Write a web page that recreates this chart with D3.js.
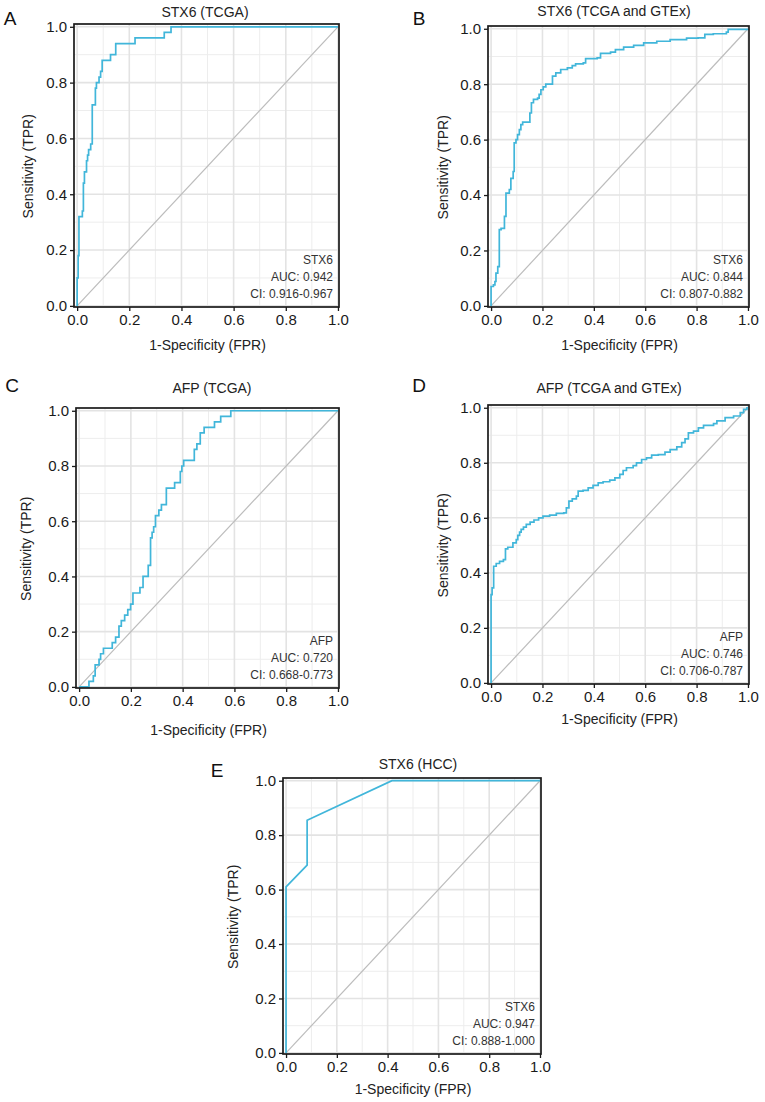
<!DOCTYPE html>
<html>
<head>
<meta charset="utf-8">
<script src="https://cdn.jsdelivr.net/npm/d3@7"></script>
<style>
  body { margin: 0; background: #fff; }
  svg { display: block; font-family: "Liberation Sans", Arial, Helvetica, sans-serif; }
</style>
</head>
<body>
<svg id="chart" width="765" height="1102"></svg>
<script>
// ---- Data (fpr, tpr) ----
const stx6TcgaFpr = [0,0,0.004,0.007,0.02,0.024,0.028,0.036,0.04,0.044,0.052,0.058,0.07,0.074,0.084,0.09,0.096,0.128,0.148,0.222,0.334,0.36,1];
const stx6TcgaTpr = [0,0.10,0.18,0.32,0.34,0.44,0.48,0.52,0.54,0.56,0.58,0.72,0.78,0.80,0.82,0.84,0.88,0.90,0.94,0.96,0.98,1.0,1.0];

const stx6GtexFpr = [0,0,0.009,0.015,0.019,0.026,0.032,0.039,0.052,0.058,0.071,0.077,0.086,0.09,0.097,0.103,0.11,0.116,0.123,0.151,0.157,0.165,0.181,0.187,0.194,0.203,0.213,0.239,0.252,0.271,0.297,0.316,0.329,0.359,0.368,0.413,0.426,0.465,0.484,0.516,0.555,0.594,0.645,0.697,0.761,0.806,0.832,0.865,0.916,0.923,1];
const stx6GtexTpr = [0,0.07,0.076,0.088,0.118,0.142,0.275,0.28,0.323,0.407,0.42,0.46,0.485,0.588,0.6,0.618,0.636,0.654,0.663,0.696,0.733,0.745,0.75,0.763,0.78,0.79,0.8,0.829,0.841,0.853,0.859,0.867,0.873,0.877,0.892,0.895,0.911,0.916,0.925,0.934,0.94,0.949,0.955,0.961,0.966,0.967,0.98,0.982,0.988,0.998,1.0];

const afpTcgaFpr = [0,0.038,0.055,0.062,0.077,0.083,0.094,0.128,0.141,0.154,0.163,0.176,0.188,0.199,0.208,0.235,0.247,0.267,0.276,0.282,0.288,0.295,0.308,0.318,0.337,0.369,0.391,0.397,0.404,0.445,0.455,0.468,0.483,0.523,0.547,0.586,1];
const afpTcgaTpr = [0,0.02,0.04,0.08,0.10,0.12,0.14,0.16,0.18,0.22,0.24,0.26,0.28,0.30,0.34,0.36,0.40,0.44,0.54,0.56,0.58,0.62,0.64,0.66,0.72,0.74,0.78,0.80,0.82,0.86,0.88,0.92,0.94,0.96,0.98,1.0,1.0];

const afpGtexFpr = [0,0,0.004,0.010,0.020,0.033,0.048,0.056,0.065,0.085,0.098,0.104,0.111,0.117,0.126,0.137,0.152,0.167,0.185,0.202,0.228,0.254,0.283,0.293,0.303,0.316,0.332,0.339,0.358,0.378,0.397,0.417,0.436,0.462,0.482,0.501,0.514,0.527,0.553,0.566,0.586,0.605,0.625,0.651,0.677,0.697,0.723,0.742,0.755,0.768,0.788,0.807,0.827,0.866,0.879,0.911,0.944,0.970,0.983,0.996,1];
const afpGtexTpr = [0,0.321,0.345,0.424,0.434,0.442,0.448,0.487,0.493,0.509,0.521,0.536,0.548,0.558,0.566,0.576,0.584,0.592,0.600,0.606,0.610,0.616,0.618,0.636,0.661,0.669,0.679,0.697,0.700,0.709,0.718,0.727,0.731,0.737,0.745,0.758,0.772,0.782,0.790,0.800,0.812,0.818,0.828,0.830,0.839,0.848,0.858,0.873,0.887,0.909,0.915,0.927,0.936,0.942,0.952,0.964,0.970,0.982,0.994,1.0,1.0];

const stx6HccFpr = [0,0,0.083,0.083,0.417,1];
const stx6HccTpr = [0,0.61,0.69,0.855,1.0,1.0];

const tickValues = [0,0.2,0.4,0.6,0.8,1.0];
const tickLabels = ["0.0","0.2","0.4","0.6","0.8","1.0"];
const minorValues = [0.1,0.3,0.5,0.7,0.9];

const panelLetters = ["A","B","C","D","E"];
const panelTitles = ["STX6 (TCGA)","STX6 (TCGA and GTEx)","AFP (TCGA)","AFP (TCGA and GTEx)","STX6 (HCC)"];
const markerNames = ["STX6","STX6","AFP","AFP","STX6"];
const aucLabels = ["AUC: 0.942","AUC: 0.844","AUC: 0.720","AUC: 0.746","AUC: 0.947"];
const ciLabels = ["CI: 0.916-0.967","CI: 0.807-0.882","CI: 0.668-0.773","CI: 0.706-0.787","CI: 0.888-1.000"];
const fprSeries = [stx6TcgaFpr, stx6GtexFpr, afpTcgaFpr, afpGtexFpr, stx6HccFpr];
const tprSeries = [stx6TcgaTpr, stx6GtexTpr, afpTcgaTpr, afpGtexTpr, stx6HccTpr];
const curveKinds = ["step","step","step","step","linear"];

// ---- Layout ----
const layout = [
  {l:74,  t:24,  r:339, b:307,  title:[205,12],  letter:[10,18],  ytitle:28,  xtitle:345},
  {l:488, t:26,  r:749, b:307,  title:[614,11],  letter:[419,18], ytitle:443, xtitle:345},
  {l:76,  t:408, r:339, b:688,  title:[212,388], letter:[12,385], ytitle:26,  xtitle:730},
  {l:488, t:405, r:749, b:684,  title:[609,388], letter:[419,385],ytitle:443, xtitle:719},
  {l:283, t:778, r:541, b:1054, title:[418,764], letter:[217,770],ytitle:233, xtitle:1089}
];

const svg = d3.select("#chart");
const blue = "#41b6da";
const FONT = "'Liberation Sans', Arial, sans-serif";

layout.forEach((p, i) => {
  const x = d3.scaleLinear().domain([-0.012, 1.004]).range([p.l, p.r]);
  const y = d3.scaleLinear().domain([-0.004, 1.01]).range([p.b, p.t]);
  const g = svg.append("g");

  // grid
  g.selectAll(".minx").data(minorValues).join("line")
    .attr("x1", d => x(d)).attr("x2", d => x(d)).attr("y1", p.t).attr("y2", p.b)
    .attr("stroke", "#ededed").attr("stroke-width", 1.0);
  g.selectAll(".miny").data(minorValues).join("line")
    .attr("y1", d => y(d)).attr("y2", d => y(d)).attr("x1", p.l).attr("x2", p.r)
    .attr("stroke", "#ededed").attr("stroke-width", 1.0);
  g.selectAll(".majx").data(tickValues).join("line")
    .attr("x1", d => x(d)).attr("x2", d => x(d)).attr("y1", p.t).attr("y2", p.b)
    .attr("stroke", "#e3e3e3").attr("stroke-width", 1.6);
  g.selectAll(".majy").data(tickValues).join("line")
    .attr("y1", d => y(d)).attr("y2", d => y(d)).attr("x1", p.l).attr("x2", p.r)
    .attr("stroke", "#e3e3e3").attr("stroke-width", 1.6);

  // diagonal
  g.append("line")
    .attr("x1", x(0)).attr("y1", y(0)).attr("x2", x(1)).attr("y2", y(1))
    .attr("stroke", "#bcbcbc").attr("stroke-width", 1.2);

  // curve
  const pts = fprSeries[i].map((f, k) => [f, tprSeries[i][k]]);
  const line = d3.line().x(d => x(d[0])).y(d => y(d[1]))
    .curve(curveKinds[i] === "step" ? d3.curveStepAfter : d3.curveLinear);
  g.append("path").datum(pts).attr("d", line)
    .attr("fill", "none").attr("stroke", blue).attr("stroke-width", 1.7)
    .attr("stroke-linejoin", "miter");

  // frame
  g.append("rect").attr("x", p.l).attr("y", p.t)
    .attr("width", p.r - p.l).attr("height", p.b - p.t)
    .attr("fill", "none").attr("stroke", "#1a1a1a").attr("stroke-width", 1.7);

  // axes
  const xAxis = d3.axisBottom(x).tickValues(tickValues)
    .tickFormat((d, k) => tickLabels[k]).tickSize(4).tickPadding(3);
  const gx = g.append("g").attr("transform", `translate(0,${p.b})`).call(xAxis);
  const yAxis = d3.axisLeft(y).tickValues(tickValues)
    .tickFormat((d, k) => tickLabels[k]).tickSize(4).tickPadding(3);
  const gy = g.append("g").attr("transform", `translate(${p.l},0)`).call(yAxis);
  [gx, gy].forEach(a => {
    a.select(".domain").remove();
    a.selectAll(".tick line").attr("stroke", "#1a1a1a").attr("stroke-width", 1.3);
    a.selectAll(".tick text").attr("fill", "#1a1a1a").style("font-size", "15px")
      .style("font-family", FONT);
  });

  // titles
  g.append("text").attr("x", p.title[0]).attr("y", p.title[1]).attr("dy", "0.35em")
    .attr("text-anchor", "middle").attr("fill", "#222").style("font-size", "14px")
    .text(panelTitles[i]);
  g.append("text").attr("x", p.letter[0]).attr("y", p.letter[1]).attr("dy", "0.35em")
    .attr("text-anchor", "middle").attr("fill", "#111").style("font-size", "19px")
    .text(panelLetters[i]);
  g.append("text").attr("x", (x(0) + x(1)) / 2).attr("y", p.xtitle).attr("dy", "0.35em")
    .attr("text-anchor", "middle").attr("fill", "#222").style("font-size", "14px")
    .text("1-Specificity (FPR)");
  g.append("text")
    .attr("transform", `translate(${p.ytitle},${(y(0) + y(1)) / 2}) rotate(-90)`)
    .attr("dy", "0.35em").attr("text-anchor", "middle").attr("fill", "#222")
    .style("font-size", "14px").text("Sensitivity (TPR)");

  // annotation
  const ann = [markerNames[i], aucLabels[i], ciLabels[i]];
  g.selectAll(".ann").data(ann).join("text")
    .attr("x", p.r - 6).attr("y", (d, k) => p.b - 47 + k * 17).attr("dy", "0.35em")
    .attr("text-anchor", "end").attr("fill", "#333").style("font-size", "12px")
    .text(d => d);
});
</script>
</body>
</html>
